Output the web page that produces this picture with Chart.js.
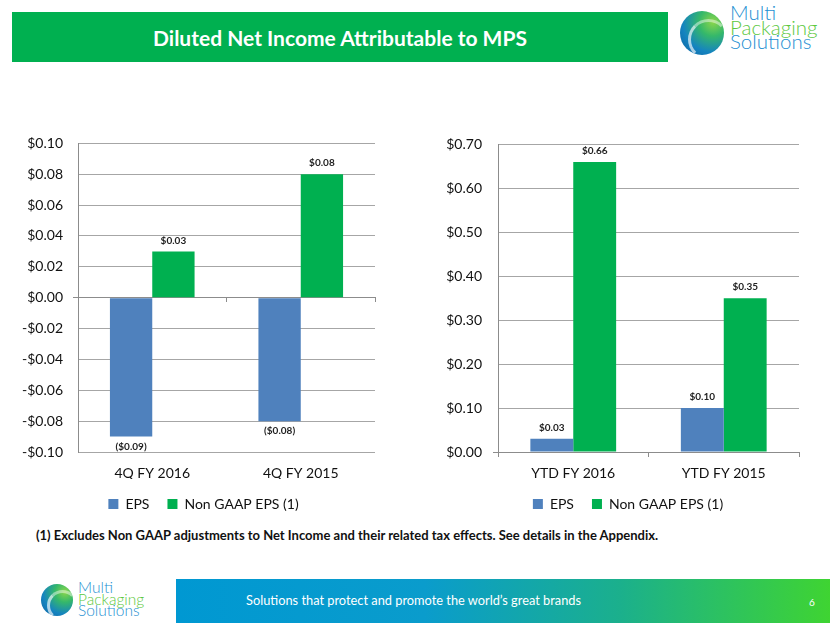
<!DOCTYPE html>
<html>
<head>
<meta charset="utf-8">
<title>Diluted Net Income Attributable to MPS</title>
<script src="https://cdn.jsdelivr.net/npm/chart.js@4.4.0/dist/chart.umd.min.js"></script>
<style>
  body { margin: 0; width: 830px; height: 623px; position: relative; overflow: hidden; background: #fff; font-family: Lato, 'Liberation Sans', sans-serif; }
  .header { position: absolute; left: 12px; top: 12px; width: 656px; height: 50px; background: #00b050; color: #fff; font-weight: bold; font-size: 21px; display: flex; align-items: center; justify-content: center; }
  .logo-ball { position: absolute; border-radius: 50%; overflow: hidden;
    background: radial-gradient(circle at 75% 25%, #8bd64a 0%, #35b86a 30%, #1584c0 65%, #0d5e9c 100%); }
  .logo-ball::after { content: ''; position: absolute; left: 18%; top: 18%; width: 80%; height: 80%; border-radius: 50%;
    border: 3px solid transparent; border-left-color: rgba(255,255,255,0.65); border-top-color: rgba(255,255,255,0.45); }
  .logo-text { position: absolute; font-weight: 300; }
  .logo-text div:nth-child(1), .logo-text div:nth-child(3) { color: #1e90d2; }
  .logo-text div:nth-child(2) { color: #5cc83e; }
  .note { position: absolute; left: 36px; top: 527px; font-size: 13px; font-weight: bold; color: #111; white-space: nowrap; }
  .footer { position: absolute; left: 176px; top: 579px; width: 654px; height: 44px;
    background: linear-gradient(to right, #0098d2 0%, #0a9ccc 38%, #1bb08c 68%, #3fd432 100%); }
  .footer-text { position: absolute; left: 246px; top: 592px; color: #fff; font-size: 12.8px; white-space: nowrap; }
  .page-num { position: absolute; left: 809px; top: 596px; color: #fff; font-size: 10px; }
  canvas { position: absolute; top: 125px; }
</style>
</head>
<body>
<div class="header">Diluted Net Income Attributable to MPS</div>

<div class="logo-ball" style="left:680px; top:11px; width:44px; height:44px;"></div>
<div class="logo-text" style="left:730px; top:5px; font-size:20.5px; line-height:14.5px;">
  <div>Multi</div><div>Packaging</div><div>Solutions</div>
</div>

<canvas id="quarterChart" width="408" height="396" style="left:0px;"></canvas>
<canvas id="ytdChart" width="415" height="396" style="left:415px;"></canvas>

<div class="note">(1) Excludes Non GAAP adjustments to Net Income and their related tax effects. See details in the Appendix.</div>

<div class="logo-ball" style="left:41px; top:584px; width:32px; height:32px;"></div>
<div class="logo-text" style="left:78px; top:582px; font-size:15.5px; line-height:11.5px;">
  <div>Multi</div><div>Packaging</div><div>Solutions</div>
</div>
<div class="footer"></div>
<div class="footer-text">Solutions that protect and promote the world’s great brands</div>
<div class="page-num">6</div>

<script>
// data
const seriesNames = ['EPS', 'Non GAAP EPS (1)'];

const quarterLabels = ['4Q FY 2016', '4Q FY 2015'];
const quarterEps = [-0.09, -0.08];
const quarterNonGaap = [0.03, 0.08];
const quarterTicks = ['-$0.10', '-$0.08', '-$0.06', '-$0.04', '-$0.02', '$0.00', '$0.02', '$0.04', '$0.06', '$0.08', '$0.10'];

const ytdLabels = ['YTD FY 2016', 'YTD FY 2015'];
const ytdEps = [0.03, 0.10];
const ytdNonGaap = [0.66, 0.35];
const ytdTicks = ['$0.00', '$0.10', '$0.20', '$0.30', '$0.40', '$0.50', '$0.60', '$0.70'];

const BLUE = '#4f81bd';
const GREEN = '#00b050';
const GRID = '#a6a6a6';
const AXIS = '#8c8c8c';

Chart.defaults.font.family = "Lato, 'Liberation Sans', sans-serif";
Chart.defaults.font.size = 14;
Chart.defaults.color = '#111';

// value labels above / below each bar
const barLabels = {
    id: 'barLabels',
    afterDatasetsDraw(chart) {
        const ctx = chart.ctx;
        ctx.save();
        ctx.font = "bold 10px Lato, 'Liberation Sans', sans-serif";
        ctx.fillStyle = '#222';
        ctx.textAlign = 'center';
        ctx.textBaseline = 'middle';
        chart.data.datasets.forEach((ds, i) => {
            chart.getDatasetMeta(i).data.forEach((bar, j) => {
                const v = ds.data[j];
                const txt = v < 0 ? '($' + Math.abs(v).toFixed(2) + ')' : '$' + v.toFixed(2);
                ctx.fillText(txt, bar.x, v < 0 ? bar.y + 10 : bar.y - 11);
            });
        });
        ctx.restore();
    }
};

// slide the legend sideways so it sits under the whole chart block, like the slide
const legendShift = {
    id: 'legendShift',
    afterLayout(chart, args, opts) {
        if (chart.legend && opts.dx) {
            chart.legend.left += opts.dx;
            chart.legend.right += opts.dx;
        }
    }
};

function makeDatasets(eps, nonGaap) {
    return [
        { label: seriesNames[0], data: eps, backgroundColor: BLUE, categoryPercentage: 0.57, barPercentage: 1 },
        { label: seriesNames[1], data: nonGaap, backgroundColor: GREEN, categoryPercentage: 0.57, barPercentage: 1 }
    ];
}

const legendOpts = {
    position: 'bottom',
    labels: { boxWidth: 10, boxHeight: 10, padding: 18, color: '#111', font: { size: 14 } }
};

// only the zero line pokes out left of the value axis
const zeroTick = (c) => (c.tick && Math.abs(c.tick.value) < 1e-9 ? AXIS : 'rgba(0,0,0,0)');

new Chart(document.getElementById('quarterChart'), {
    type: 'bar',
    data: { labels: quarterLabels, datasets: makeDatasets(quarterEps, quarterNonGaap) },
    options: {
        responsive: false,
        animation: false,
        layout: { padding: { left: 0, right: 33, top: 17, bottom: 0 } },
        plugins: { legend: legendOpts, legendShift: { dx: 16 }, tooltip: { enabled: false } },
        scales: {
            x: {
                grid: { display: false, drawTicks: false },
                border: { display: false },
                ticks: { padding: 13 },
                afterFit(s) { s.height = 27; }
            },
            x2: {
                type: 'category',
                position: { y: 0 },
                offset: true,
                grid: { offset: true, drawOnChartArea: false, tickLength: 4, color: AXIS },
                border: { color: AXIS },
                ticks: { display: false }
            },
            y: {
                min: -0.1, max: 0.1,
                ticks: { stepSize: 0.02, padding: 10, callback: (v, i) => quarterTicks[i] },
                grid: { color: GRID, tickLength: 5, tickColor: zeroTick },
                border: { color: AXIS },
                afterFit(s) { s.width = 78; }
            }
        }
    },
    plugins: [barLabels, legendShift]
});

new Chart(document.getElementById('ytdChart'), {
    type: 'bar',
    data: { labels: ytdLabels, datasets: makeDatasets(ytdEps, ytdNonGaap) },
    options: {
        responsive: false,
        animation: false,
        layout: { padding: { left: 0, right: 31, top: 17, bottom: 0 } },
        plugins: { legend: legendOpts, legendShift: { dx: 21 }, tooltip: { enabled: false } },
        scales: {
            x: {
                offset: true,
                grid: { offset: true, drawOnChartArea: false, tickLength: 5, color: AXIS },
                border: { color: AXIS },
                ticks: { padding: 8 },
                afterFit(s) { s.height = 27; }
            },
            y: {
                min: 0, max: 0.7,
                ticks: { stepSize: 0.1, padding: 11, callback: (v, i) => ytdTicks[i] },
                grid: { color: GRID, tickLength: 5, tickColor: zeroTick },
                border: { color: AXIS },
                afterFit(s) { s.width = 83; }
            }
        }
    },
    plugins: [barLabels, legendShift]
});
</script>
</body>
</html>
